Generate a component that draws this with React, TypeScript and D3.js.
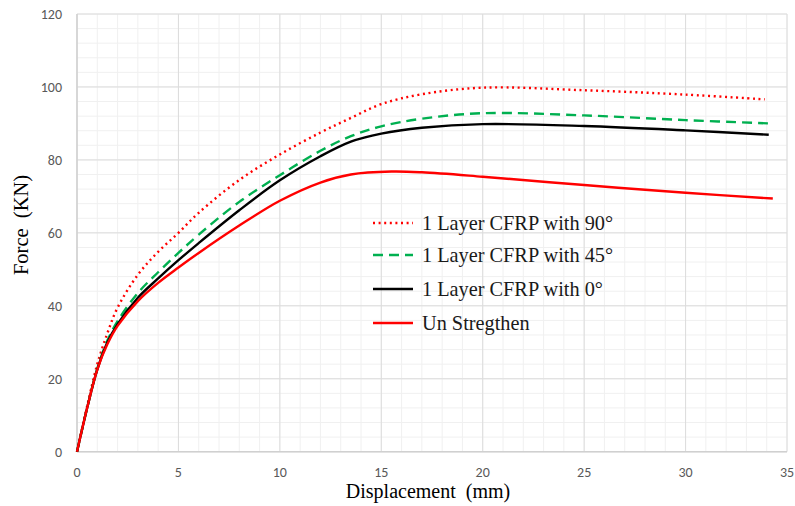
import React from "react";
import * as d3 from "d3";

type Pt = [number, number];

const xTicks = [0, 5, 10, 15, 20, 25, 30, 35];
const yTicks = [0, 20, 40, 60, 80, 100, 120];

const unStrengthened: Pt[] = [
  [0, 0], [0.5, 12], [1, 22.5], [1.5, 29.5], [2, 34.5], [3, 41.3], [4, 46.3], [5, 50.5], [6, 54.5],
  [8, 62], [10, 68.8], [12, 73.8], [13.5, 76], [15.5, 76.8], [17, 76.6], [20, 75.4], [25, 73.1],
  [30, 71], [34.3, 69.4],
];
const cfrp0: Pt[] = [
  [0, 0], [0.5, 12], [1, 22.5], [1.5, 30], [2, 35], [3, 42.2], [4, 47.5], [5, 52.5], [6, 57.2],
  [8, 66.2], [10, 74.4], [12, 81], [13.5, 85], [15, 87.2], [17, 88.8], [20, 89.8],
  [25, 89.3], [30, 88.1], [34.1, 86.9],
];
const cfrp45: Pt[] = [
  [0, 0], [0.5, 12], [1, 22.8], [1.5, 30.5], [2, 35.8], [3, 43.5], [4, 49.2], [5, 54.5], [6, 59.5],
  [8, 68.5], [10, 75.8], [12, 82.5], [13.5, 86.5], [15, 89.2], [17, 91.3], [20, 92.8], [25, 92.2],
  [30, 90.9], [34.1, 90],
];
const cfrp90: Pt[] = [
  [0, 0], [0.5, 12.5], [1, 24], [1.5, 32.5], [2, 39.5], [3, 48.5], [4, 54.8], [5, 60], [6, 65.5],
  [8, 74.5], [10, 81.5], [12, 87.5], [13.5, 91.5], [15, 95.3], [17, 98], [20, 99.8], [25, 99.1],
  [30, 97.9], [33.9, 96.6],
];

const seriesNames = [
  "1 Layer CFRP with 90°",
  "1 Layer CFRP with 45°",
  "1 Layer CFRP with 0°",
  "Un Stregthen",
];
const seriesData = [cfrp90, cfrp45, cfrp0, unStrengthened];
const seriesColors = ["#ff0000", "#00b050", "#000000", "#ff0000"];
const seriesDash = ["2 3.6", "10 6", "none", "none"];

const W = 795;
const H = 506;
const left = 77;
const right = 787;
const top = 14;
const bottom = 451.7;

const serif = "'Liberation Serif', 'Times New Roman', serif";
const sans = "Carlito, 'Liberation Sans', Arial, sans-serif";

export default function App() {
  const x = d3.scaleLinear().domain([0, 35]).range([left, right]);
  const y = d3.scaleLinear().domain([0, 120]).range([bottom, top]);
  const line = d3
    .line<Pt>()
    .x((d) => x(d[0]))
    .y((d) => y(d[1]))
    .curve(d3.curveCatmullRom.alpha(0.5));

  const minorX = d3.range(0, 36, 1);
  const minorY = d3.range(0, 121, 4);

  const legendX = 373;
  const legendYs = [223, 255, 289, 323];

  return (
    <svg
      width={W}
      height={H}
      style={{ position: "absolute", left: 0, top: 0, background: "#fff" }}
    >
      {minorX.map((v) => (
        <line key={"mx" + v} x1={x(v)} x2={x(v)} y1={top} y2={bottom} stroke="#f0f0f0" strokeWidth={1} />
      ))}
      {minorY.map((v) => (
        <line key={"my" + v} x1={left} x2={right} y1={y(v)} y2={y(v)} stroke="#f0f0f0" strokeWidth={1} />
      ))}
      {xTicks.map((v) => (
        <line key={"Mx" + v} x1={x(v)} x2={x(v)} y1={top} y2={bottom} stroke="#dcdcdc" strokeWidth={1} />
      ))}
      {yTicks.map((v) => (
        <line key={"My" + v} x1={left} x2={right} y1={y(v)} y2={y(v)} stroke="#dcdcdc" strokeWidth={1} />
      ))}
      <line x1={left} x2={right} y1={bottom} y2={bottom} stroke="#d0d0d0" strokeWidth={1.5} />
      <line x1={left} x2={left} y1={top} y2={bottom} stroke="#d0d0d0" strokeWidth={1.5} />

      {xTicks.map((v) => (
        <text key={"tx" + v} x={x(v)} y={477} textAnchor="middle" fontFamily={sans} fontSize={14} fill="#595959">
          {v}
        </text>
      ))}
      {yTicks.map((v) => (
        <text key={"ty" + v} x={62} y={y(v) + 5} textAnchor="end" fontFamily={sans} fontSize={14} fill="#595959">
          {v}
        </text>
      ))}

      {seriesData.map((d, i) => (
        <path
          key={"s" + i}
          d={line(d) || ""}
          fill="none"
          stroke={seriesColors[i]}
          strokeWidth={2.4}
          strokeDasharray={seriesDash[i]}
        />
      ))}

      <text
        x={428}
        y={498}
        textAnchor="middle"
        fontFamily={serif}
        fontSize={20}
        fill="#000"
        style={{ whiteSpace: "pre" }}
      >
        {"Displacement  (mm)"}
      </text>
      <text
        transform={`translate(28,225) rotate(-90)`}
        textAnchor="middle"
        fontFamily={serif}
        fontSize={20.5}
        fill="#000"
        style={{ whiteSpace: "pre" }}
      >
        {"Force  (KN)"}
      </text>

      {seriesNames.map((name, i) => (
        <g key={"lg" + i}>
          <line
            x1={legendX}
            x2={legendX + 40}
            y1={legendYs[i]}
            y2={legendYs[i]}
            stroke={seriesColors[i]}
            strokeWidth={2.4}
            strokeDasharray={seriesDash[i]}
          />
          <text x={legendX + 49} y={legendYs[i] + 6.5} fontFamily={serif} fontSize={20.3} fill="#1a1a1a">
            {name}
          </text>
        </g>
      ))}
    </svg>
  );
}
